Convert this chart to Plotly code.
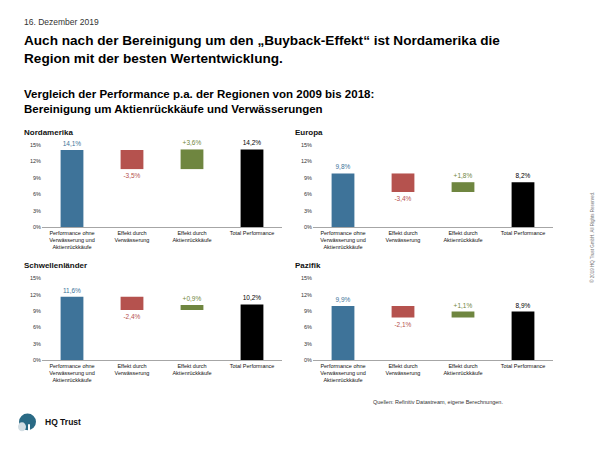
import plotly.graph_objects as go

regions = ["Nordamerika", "Europa", "Schwellenländer", "Pazifik"]
categories = ["Performance ohne<br>Verwässerung und<br>Aktienrückkäufe",
              "Effekt durch<br>Verwässerung",
              "Effekt durch<br>Aktienrückkäufe",
              "Total Performance"]
perf_ohne = [14.1, 9.8, 11.6, 9.9]
eff_verw = [-3.5, -3.4, -2.4, -2.1]
eff_rueck = [3.6, 1.8, 0.9, 1.1]
total = [14.2, 8.2, 10.2, 8.9]
y_ticks = [0, 3, 6, 9, 12, 15]
y_tick_labels = ["0%", "3%", "6%", "9%", "12%", "15%"]

colors = ["#3e7399", "#b5524e", "#6f8640", "#000000"]

W, H = 600, 450
panels = [(42, 282, 144, 227), (313, 553, 144, 227),
          (42, 282, 279, 362), (313, 553, 279, 362)]
title_pos = [(22, 131), (293, 131), (22, 266), (293, 266)]

def fmt(v, sign=False):
    s = f"{abs(v):.1f}".replace(".", ",") + "%"
    if sign:
        s = ("+" if v >= 0 else "-") + s
    return s

fig = go.Figure()
layout = dict()
FONT = "Liberation Sans"

for i, r in enumerate(regions):
    xa = "x" if i == 0 else f"x{i+1}"
    ya = "y" if i == 0 else f"y{i+1}"
    bases = [0, perf_ohne[i], perf_ohne[i] + eff_verw[i], 0]
    vals = [perf_ohne[i], eff_verw[i], eff_rueck[i], total[i]]
    texts = [fmt(perf_ohne[i]), fmt(eff_verw[i], True), fmt(eff_rueck[i], True), fmt(total[i])]
    fig.add_trace(go.Bar(
        x=categories, y=vals, base=bases, xaxis=xa, yaxis=ya,
        marker=dict(color=colors, line=dict(width=0)),
        width=0.38, text=texts, textposition="outside",
        textfont=dict(color=colors, size=6.5, family=FONT),
        cliponaxis=False, showlegend=False, hoverinfo="skip"))
    x0, x1, yt, yb = panels[i]
    kx = "xaxis" if i == 0 else f"xaxis{i+1}"
    ky = "yaxis" if i == 0 else f"yaxis{i+1}"
    layout[kx] = dict(domain=[x0 / W, x1 / W], anchor=ya, showgrid=False,
                      showline=True, linecolor="#a6a6a6", linewidth=1,
                      ticks="", tickfont=dict(size=5.5, family=FONT, color="#111"),
                      fixedrange=True, tickangle=0)
    layout[ky] = dict(domain=[1 - yb / H, 1 - yt / H], anchor=xa, range=[0, 15],
                      tickmode="array", tickvals=y_ticks, ticktext=y_tick_labels,
                      showgrid=False, zeroline=False,
                      showline=False, tickfont=dict(size=5.5, family=FONT, color="#333"),
                      ticks="", ticklen=0)

annotations = []
for i, r in enumerate(regions):
    tx, ty = title_pos[i]
    annotations.append(dict(text=f"<b>{r}</b>", x=tx / W, y=1 - ty / H,
                            xanchor="left", yanchor="middle",
                            font=dict(size=8, family=FONT, color="#111")))

annotations += [
    dict(text="16. Dezember 2019", x=22 / W, y=1 - 19 / H, xanchor="left", yanchor="middle",
         font=dict(size=8.5, family=FONT, color="#333")),
    dict(text="<b>Auch nach der Bereinigung um den „Buyback-Effekt“ ist Nordamerika die<br>Region mit der besten Wertentwicklung.</b>",
         x=22 / W, y=1 - 28 / H, xanchor="left", yanchor="top", align="left",
         font=dict(size=13.6, family=FONT, color="#000")),
    dict(text="<b>Vergleich der Performance p.a. der Regionen von 2009 bis 2018:<br>Bereinigung um Aktienrückkäufe und Verwässerungen</b>",
         x=22 / W, y=1 - 84 / H, xanchor="left", yanchor="top", align="left",
         font=dict(size=11.5, family=FONT, color="#000")),
    dict(text="Quellen: Refinitiv Datastream, eigene Berechnungen.", x=505 / W, y=1 - 404 / H,
         xanchor="right", yanchor="middle", font=dict(size=5.5, family=FONT, color="#333")),
    dict(text="<b>HQ Trust</b>", x=43 / W, y=1 - 425 / H, xanchor="left", yanchor="middle",
         font=dict(size=8.5, family=FONT, color="#111")),
    dict(text="© 2019 HQ Trust GmbH. All Rights Reserved.", x=592 / W, y=1 - 238 / H,
         xanchor="center", yanchor="middle", textangle=-90,
         font=dict(size=4.5, family=FONT, color="#777")),
]
for a in annotations:
    a.setdefault("xref", "paper")
    a.setdefault("yref", "paper")
    a.setdefault("showarrow", False)

shapes = [
    dict(type="circle", xref="paper", yref="paper", x0=19 / W, x1=36 / W,
         y0=1 - 433 / H, y1=1 - 416 / H, fillcolor="#2a6a85", line=dict(width=0)),
    dict(type="circle", xref="paper", yref="paper", x0=18 / W, x1=26 / W,
         y0=1 - 434 / H, y1=1 - 425 / H, fillcolor="#d3dee4", line=dict(width=0)),
    dict(type="rect", xref="paper", yref="paper", x0=28 / W, x1=30 / W,
         y0=1 - 434 / H, y1=1 - 427 / H, fillcolor="#ffffff", line=dict(width=0)),
]

fig.update_layout(**layout, annotations=annotations, shapes=shapes,
                  width=W, height=H, margin=dict(l=0, r=0, t=0, b=0),
                  paper_bgcolor="white", plot_bgcolor="white",
                  font=dict(family=FONT), barmode="overlay")
fig.write_html("out.html", config={"displayModeBar": False})
